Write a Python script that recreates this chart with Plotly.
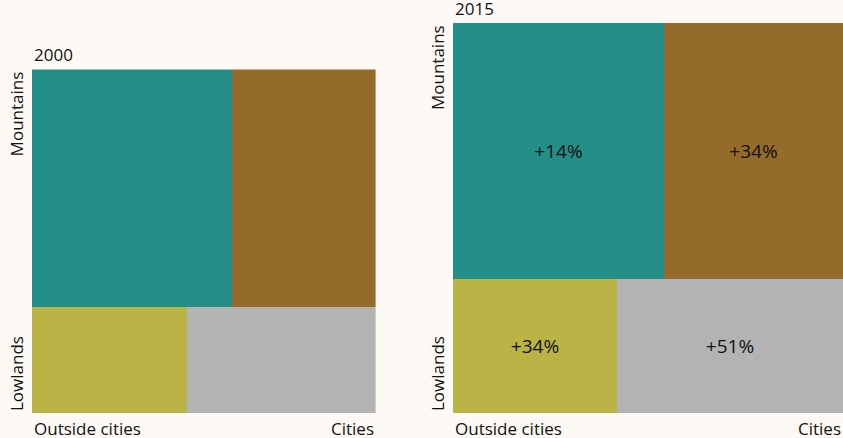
import math
import plotly.graph_objects as go

# population (arbitrary units) by region, outside cities / cities
areas = ["Outside cities", "Cities"]
regions = ["Mountains", "Lowlands"]
years = ["2000", "2015"]

mountains_2000 = [47.6, 34.3]
lowlands_2000 = [16.4, 20.0]
mountains_2015 = [54.2, 46.0]
lowlands_2015 = [22.0, 30.2]

colors_mountains = ["#248f89", "#956b2b"]
colors_lowlands = ["#bab345", "#b3b3b3"]

W, H = 843, 438
margin = dict(l=32, r=0, t=23, b=25)
plot_w = W - margin["l"] - margin["r"]
plot_h = H - margin["t"] - margin["b"]
BG = "#fdfaf5"


def mosaic(mountains, lowlands):
    # returns the side of the square and the rectangles (x centre, width, base, height)
    total = sum(mountains) + sum(lowlands)
    side = math.sqrt(total)
    h_low = side * sum(lowlands) / total
    h_mtn = side * sum(mountains) / total
    cells = []
    for row, base, h in [(lowlands, 0, h_low), (mountains, h_low, h_mtn)]:
        w_out = side * row[0] / sum(row)
        w_city = side - w_out
        cells.append((w_out / 2, w_out, base, h))
        cells.append((w_out + w_city / 2, w_city, base, h))
    return side, cells


side_2000, cells_2000 = mosaic(mountains_2000, lowlands_2000)
side_2015, cells_2015 = mosaic(mountains_2015, lowlands_2015)

# growth labels from the data
growth = [
    f"+{round((b / a - 1) * 100)}%"
    for a, b in zip(lowlands_2000 + mountains_2000, lowlands_2015 + mountains_2015)
]

# pixel size of each square, the 2015 one fills the plot height
px_2015 = plot_h
px_2000 = plot_h * side_2000 / side_2015

fig = go.Figure()

cell_colors = colors_lowlands + colors_mountains
for i, (cx, w, b, h) in enumerate(cells_2000):
    fig.add_trace(go.Bar(
        x=[cx], y=[h], base=[b], width=[w],
        marker=dict(color=cell_colors[i], line=dict(width=0)),
        xaxis="x", yaxis="y", showlegend=False, hoverinfo="skip"
    ))

for i, (cx, w, b, h) in enumerate(cells_2015):
    fig.add_trace(go.Bar(
        x=[cx], y=[h], base=[b], width=[w],
        marker=dict(color=cell_colors[i], line=dict(width=0)),
        text=[growth[i]], textposition="inside", insidetextanchor="middle",
        textangle=0, textfont=dict(size=19, color="#111111"),
        xaxis="x2", yaxis="y2", showlegend=False, hoverinfo="skip"
    ))

font = dict(family="Open Sans, sans-serif", size=17, color="#111111")

fig.update_layout(
    width=W, height=H,
    margin=margin,
    paper_bgcolor=BG,
    plot_bgcolor=BG,
    font=font,
    barmode="overlay",
    bargap=0,
    xaxis=dict(domain=[0, px_2000 / plot_w], range=[0, side_2000], visible=False, fixedrange=True),
    yaxis=dict(domain=[0, px_2000 / plot_h], range=[0, side_2000], visible=False, fixedrange=True),
    xaxis2=dict(domain=[1 - px_2015 / plot_w, 1], range=[0, side_2015], visible=False,
                fixedrange=True, anchor="y2"),
    yaxis2=dict(domain=[0, 1], range=[0, side_2015], visible=False, fixedrange=True, anchor="x2"),
)

annotations = []
for xa, ya, year in [("x", "y", years[0]), ("x2", "y2", years[1])]:
    xd, yd = xa + " domain", ya + " domain"
    # year above the square
    annotations.append(dict(text=year, xref=xd, yref=yd, x=0, y=1, xanchor="left",
                            yanchor="bottom", yshift=1, showarrow=False))
    # region labels on the left, rotated
    annotations.append(dict(text=regions[0], xref=xd, yref=yd, x=0, y=1, xanchor="right",
                            yanchor="top", textangle=-90, xshift=-2, showarrow=False))
    annotations.append(dict(text=regions[1], xref=xd, yref=yd, x=0, y=0, xanchor="right",
                            yanchor="bottom", textangle=-90, xshift=-2, showarrow=False))
    # city labels underneath
    annotations.append(dict(text=areas[0], xref=xd, yref=yd, x=0, y=0, xanchor="left",
                            yanchor="top", yshift=-2, showarrow=False))
    annotations.append(dict(text=areas[1], xref=xd, yref=yd, x=1, y=0, xanchor="right",
                            yanchor="top", yshift=-2, showarrow=False))

fig.update_layout(annotations=annotations)

# no page margin so the figure fills the window
fig.write_html(
    "out.html",
    config={"displayModeBar": False},
    post_script=f"document.body.style.margin='0';document.body.style.background='{BG}';"
                "document.body.style.overflow='hidden';"
)
